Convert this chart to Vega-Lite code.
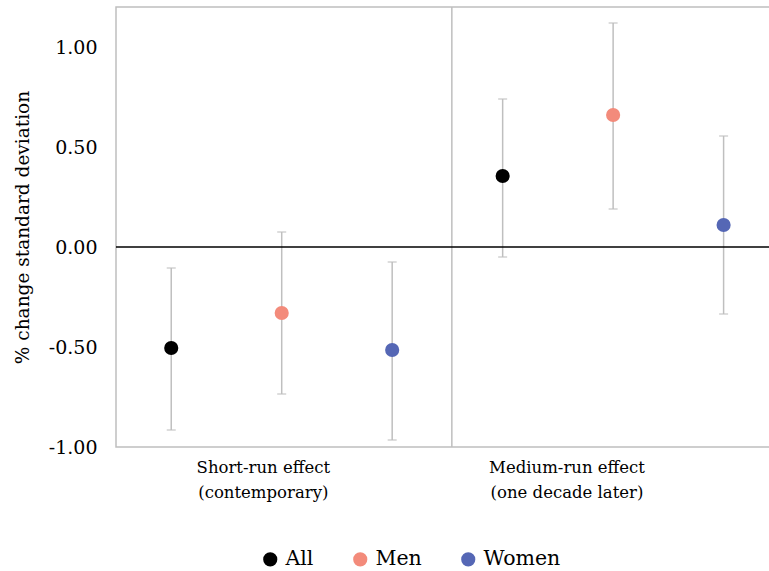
{
  "$schema": "https://vega.github.io/schema/vega-lite/v6.json",
  "autosize": "none",
  "padding": {"left": 116, "top": 7, "right": 0, "bottom": 124},
  "width": 654,
  "height": 440,
  "background": "white",
  "config": {
    "view": {"stroke": "#BFBFBF", "strokeWidth": 1.5},
    "font": "DejaVu Serif"
  },
  "datasets": {
    "est": [
      {"effect": "Short-run", "group": "All", "pos": 1, "est": -0.505, "lo": -0.915, "hi": -0.105},
      {"effect": "Short-run", "group": "Men", "pos": 2, "est": -0.33, "lo": -0.735, "hi": 0.075},
      {"effect": "Short-run", "group": "Women", "pos": 3, "est": -0.515, "lo": -0.965, "hi": -0.075},
      {"effect": "Medium-run", "group": "All", "pos": 4, "est": 0.355, "lo": -0.05, "hi": 0.74},
      {"effect": "Medium-run", "group": "Men", "pos": 5, "est": 0.66, "lo": 0.19, "hi": 1.12},
      {"effect": "Medium-run", "group": "Women", "pos": 6, "est": 0.11, "lo": -0.335, "hi": 0.555}
    ]
  },
  "layer": [
    {
      "data": {"values": [{"b": 3.54}]},
      "mark": {"type": "rule", "color": "#BFBFBF", "strokeWidth": 1.5},
      "encoding": {
        "x": {
          "field": "b", "type": "quantitative",
          "scale": {"domain": [0.5, 6.42], "nice": false, "zero": false},
          "axis": {
            "values": [1.829, 4.578],
            "domain": false, "ticks": false, "grid": false, "title": null,
            "labelFont": "DejaVu Serif", "labelFontSize": 16.5, "labelColor": "#000",
            "labelPadding": 12, "labelLineHeight": 25, "labelBaseline": "top",
            "labelExpr": "datum.value < 3 ? ['Short-run effect', '(contemporary)'] : ['Medium-run effect', '(one decade later)']"
          }
        }
      }
    },
    {
      "data": {"name": "est"},
      "mark": {"type": "rule", "color": "#BFBFBF", "strokeWidth": 1.5},
      "encoding": {
        "x": {"field": "pos", "type": "quantitative"},
        "y": {
          "field": "lo", "type": "quantitative",
          "scale": {"domain": [-1, 1.2], "nice": false, "zero": false},
          "axis": {
            "values": [-1, -0.5, 0, 0.5, 1],
            "domain": false, "ticks": false, "grid": false,
            "title": "% change standard deviation",
            "titleFont": "DejaVu Serif", "titleFontSize": 18.5, "titleFontWeight": "normal", "titleColor": "#000", "titlePadding": 16,
            "labelFont": "DejaVu Serif", "labelFontSize": 19, "labelColor": "#000", "labelPadding": 19,
            "labelExpr": "(datum.value < 0 ? '-' : '') + format(abs(datum.value), '.2f')"
          }
        },
        "y2": {"field": "hi"}
      }
    },
    {
      "data": {"name": "est"},
      "mark": {"type": "tick", "orient": "horizontal", "color": "#BFBFBF", "size": 9, "thickness": 1.5},
      "encoding": {
        "x": {"field": "pos", "type": "quantitative"},
        "y": {"field": "lo", "type": "quantitative"}
      }
    },
    {
      "data": {"name": "est"},
      "mark": {"type": "tick", "orient": "horizontal", "color": "#BFBFBF", "size": 9, "thickness": 1.5},
      "encoding": {
        "x": {"field": "pos", "type": "quantitative"},
        "y": {"field": "hi", "type": "quantitative"}
      }
    },
    {
      "data": {"values": [{"z": 0}]},
      "mark": {"type": "rule", "color": "#000000", "strokeWidth": 1.5},
      "encoding": {"y": {"field": "z", "type": "quantitative"}}
    },
    {
      "data": {"name": "est"},
      "mark": {"type": "point", "shape": "circle", "filled": true, "opacity": 1, "size": 200},
      "encoding": {
        "x": {"field": "pos", "type": "quantitative"},
        "y": {"field": "est", "type": "quantitative"},
        "color": {
          "field": "group", "type": "nominal",
          "scale": {"domain": ["All", "Men", "Women"], "range": ["#000000", "#F38B7B", "#5567B5"]},
          "legend": {
            "title": null, "orient": "none", "direction": "horizontal",
            "legendX": 144, "legendY": 542,
            "symbolType": "circle", "symbolSize": 200, "symbolStrokeWidth": 0,
            "labelFont": "DejaVu Serif", "labelFontSize": 20.5, "labelColor": "#000",
            "labelOffset": 5, "columnPadding": 36
          }
        }
      }
    }
  ]
}
